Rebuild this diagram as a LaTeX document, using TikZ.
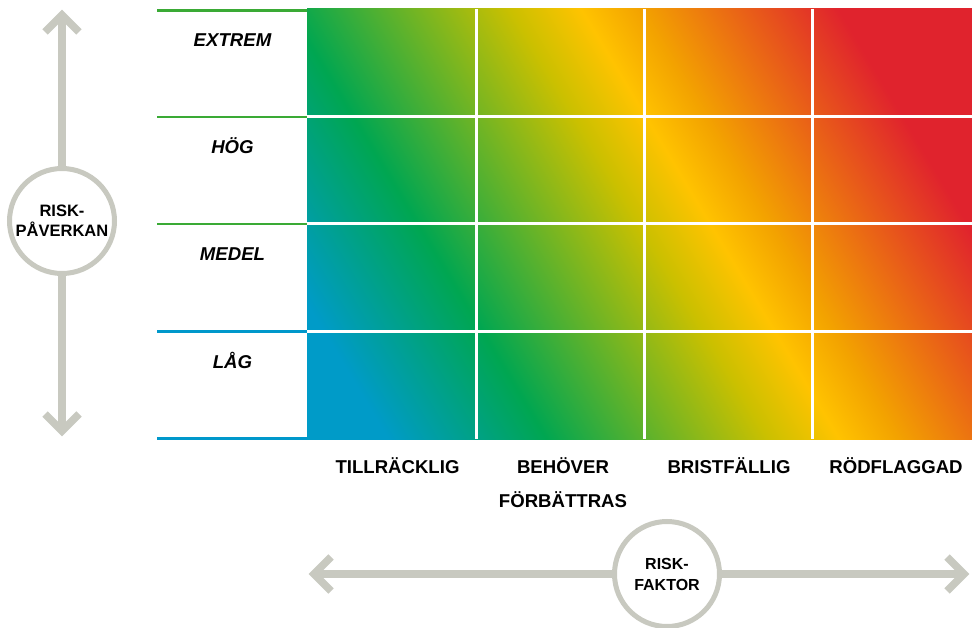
\documentclass[tikz,border=0pt]{standalone}
\usepackage{fontspec}
\setmainfont{Liberation Sans}
\definecolor{rbl}{RGB}{0,155,200}
\definecolor{rgr}{RGB}{0,166,81}
\definecolor{rol}{RGB}{203,192,0}
\definecolor{ryl}{RGB}{255,195,0}
\definecolor{ror}{RGB}{243,163,0}
\definecolor{rrd}{RGB}{224,35,45}
\definecolor{arrowgray}{RGB}{200,201,192}
\definecolor{linegreen}{RGB}{58,170,53}
\definecolor{lineblue}{RGB}{0,152,203}
\pgfdeclarehorizontalshading{riskgrad}{800bp}{color(0bp)=(rbl); color(75bp)=(rbl); color(210bp)=(rgr); color(400bp)=(rol); color(460bp)=(ryl); color(510bp)=(ror); color(680bp)=(rrd); color(800bp)=(rrd)}
\begin{document}
\begin{tikzpicture}[x=1pt,y=-1pt,
  ring/.style={circle, draw=arrowgray, line width=5pt, minimum size=105pt, inner sep=0pt, fill=white, align=center},
  shaft/.style={draw=arrowgray, line width=7.5pt},
  chev/.style={draw=arrowgray, line width=7.5pt, line join=miter, miter limit=10},
  rowlab/.style={font=\fontsize{18.6}{22}\selectfont\bfseries\itshape, anchor=base, inner sep=0pt},
  collab/.style={font=\fontsize{18.6}{34}\selectfont\bfseries, anchor=base, inner sep=0pt, align=center},
  sep/.style={draw=white, line width=3pt},
  tick/.style={line width=2.5pt}
]
\useasboundingbox (0,0) rectangle (972,628);
% gradient grid
\begin{scope}
  \clip (307,9) rectangle (972,439);
  \node[inner sep=0pt, outer sep=0pt, rotate=31] (grad) at (639.5,224) {\pgfuseshading{riskgrad}};
\end{scope}
\foreach \x in {476,644,812} \draw[sep] (\x,9) -- (\x,439);
\foreach \y in {117,224,331.5} \draw[sep] (307,\y) -- (972,\y);
% left ticks
\draw[tick, linegreen] (157,10.5) -- (307,10.5);
\draw[tick, linegreen] (157,117) -- (307,117);
\draw[tick, linegreen] (157,224) -- (307,224);
\draw[tick, lineblue] (157,331.5) -- (307,331.5);
\draw[tick, lineblue] (157,438.5) -- (307,438.5);
% row labels
\node[rowlab] (extrem) at (232.5,46.7) {EXTREM};
\node[rowlab] (hog) at (232.5,153.5) {HÖG};
\node[rowlab] (medel) at (232.5,260.7) {MEDEL};
\node[rowlab] (lag) at (232.5,368) {LÅG};
% column labels
\node[collab] (till) at (397.5,473) {TILLRÄCKLIG};
\node[collab] (behov) at (563,507) {BEHÖVER\\FÖRBÄTTRAS};
\node[collab] (brist) at (729,473) {BRISTFÄLLIG};
\node[collab] (rod) at (896,473) {RÖDFLAGGAD};
% vertical axis
\node[ring, font=\fontsize{16.5}{20}\selectfont\bfseries] (rp) at (62,221) {RISK-\\PÅVERKAN};
\coordinate (uptip) at (62,15);
\coordinate (dntip) at (62,431);
\draw[shaft] (rp) -- (uptip);
\draw[shaft] (rp) -- (dntip);
\draw[chev] (uptip) ++(-17,17) -- (uptip) -- ++(17,17);
\draw[chev] (dntip) ++(-17,-17) -- (dntip) -- ++(17,-17);
% horizontal axis
\node[ring, font=\fontsize{16}{21}\selectfont\bfseries] (rf) at (667,574) {RISK-\\FAKTOR};
\coordinate (lftip) at (314,574);
\coordinate (rttip) at (964,574);
\draw[shaft] (rf) -- (lftip);
\draw[shaft] (rf) -- (rttip);
\draw[chev] (lftip) ++(17,-17) -- (lftip) -- ++(17,17);
\draw[chev] (rttip) ++(-17,-17) -- (rttip) -- ++(-17,17);
\end{tikzpicture}
\end{document}
